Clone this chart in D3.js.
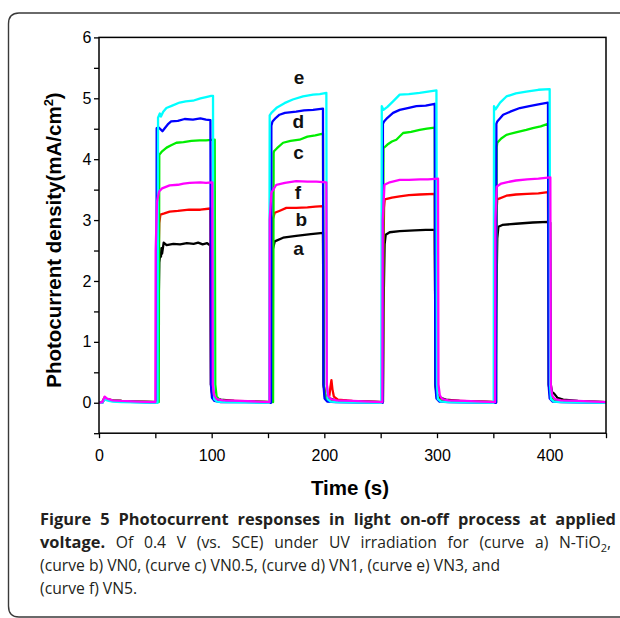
<!DOCTYPE html>
<html>
<head>
<meta charset="utf-8">
<script src="https://cdn.jsdelivr.net/npm/d3@7"></script>
<style>
  html, body { margin: 0; padding: 0; background: #fff; }
  svg { display: block; }
</style>
</head>
<body>
<svg id="chart" width="620" height="618"></svg>
<script>
// ---------------- DATA ----------------
const xTicks = [0, 100, 200, 300, 400];
const yTicks = [0, 1, 2, 3, 4, 5, 6];
const curveLabels = ["a", "b", "c", "d", "e", "f"];
const curveColors = ["#000000", "#ff0000", "#00ee00", "#0000ff", "#00ffff", "#ff00ff"];
// label positions in data units [time, value] (text baseline)
const labelPos = [[177, 2.42], [179.5, 2.90], [177, 4.01], [177, 4.52], [177.5, 5.24], [176.5, 3.35]];

// curve a: N-TiO2 (black)
const curveA = [[0,0],[3,0.01],[5,0.08],[7,0.06],[12,0.04],[20,0.03],[35,0.02],[52,0.01],[52.5,1.0],[53.5,2.3],[54.5,2.46],[55,2.4],[55.4,2.54],[56,2.45],[57.4,2.63],[60,2.59],[66,2.61],[72,2.6],[78,2.62],[84,2.61],[88,2.63],[92,2.6],[96,2.62],[98.9,2.58],[99.4,0.3],[100.5,0.14],[103,0.08],[108,0.05],[120,0.03],[140,0.02],[152.5,0.01],[153,1.5],[154,2.5],[156,2.65],[163.4,2.71],[175,2.74],[188,2.77],[198.8,2.79],[199.4,0.3],[200.5,0.14],[203,0.08],[208,0.05],[220,0.03],[240,0.02],[252,0.01],[252.5,1.5],[253.5,2.6],[254.5,2.76],[258,2.8],[266.9,2.82],[280,2.83],[290,2.84],[298,2.84],[298.8,0.3],[300,0.14],[303,0.08],[308,0.05],[320,0.03],[340,0.02],[352,0.01],[352.5,1.5],[353.5,2.7],[354.5,2.89],[358,2.92],[370,2.94],[385,2.96],[398.5,2.97],[400.5,2.96],[401,0.3],[402,0.18],[404,0.15],[407,0.08],[412,0.05],[425,0.03],[450,0.01]];
// curve b: VN0 (red)
const curveB = [[0,0],[3,0.01],[5,0.09],[7,0.06],[12,0.04],[20,0.03],[35,0.02],[52,0.01],[52.5,2.0],[53.5,2.95],[54.5,3.09],[58,3.11],[62.7,3.14],[70,3.15],[80,3.17],[90,3.17],[98.9,3.19],[99.4,0.3],[100.5,0.12],[103,0.06],[108,0.04],[120,0.03],[140,0.02],[152.5,0.01],[153,2.5],[154,3.0],[156,3.12],[160,3.15],[166.3,3.2],[175,3.2],[185,3.21],[192,3.22],[198.8,3.23],[199.4,0.3],[200.5,0.14],[202,0.09],[204.5,0.12],[205.4,0.26],[206.3,0.37],[207.2,0.22],[208.5,0.1],[212,0.05],[225,0.03],[240,0.02],[252,0.01],[252.5,2.5],[253,3.2],[253.6,3.34],[260,3.37],[266.9,3.39],[275,3.41],[284.6,3.42],[298,3.43],[298.6,0.3],[299.8,0.12],[302,0.06],[308,0.04],[320,0.03],[340,0.02],[352,0.01],[352.5,2.5],[353,3.2],[353.5,3.34],[361.6,3.40],[370,3.42],[380,3.43],[390,3.44],[398.5,3.46],[399.2,0.3],[400.5,0.12],[403,0.06],[408,0.04],[420,0.02],[450,0.01]];
// curve c: VN0.5 (green)
const curveC = [[0,0],[3,0.01],[5,0.08],[7,0.05],[12,0.04],[20,0.03],[35,0.02],[53,0.01],[53.5,4.07],[56,4.13],[60,4.19],[64,4.23],[68.7,4.27],[75,4.28],[82,4.3],[89.4,4.31],[95,4.31],[102.7,4.32],[103.2,0.3],[104.4,0.1],[107,0.05],[112,0.03],[130,0.02],[154.5,0.01],[155,4.1],[155.3,4.13],[158,4.18],[163.4,4.27],[170,4.3],[178,4.32],[185,4.37],[192,4.39],[198.8,4.42],[199.4,0.3],[200.5,0.1],[203,0.05],[208,0.03],[225,0.02],[252,0.01],[252.5,4.18],[256,4.24],[260,4.29],[263.9,4.32],[269.9,4.43],[277,4.45],[284.6,4.48],[291,4.5],[298,4.52],[298.6,0.3],[299.8,0.1],[302,0.05],[308,0.03],[325,0.02],[352.5,0.01],[353,4.2],[353.5,4.27],[357,4.34],[361.6,4.40],[370,4.44],[379.3,4.48],[385,4.51],[392,4.54],[398.5,4.58],[399.2,0.3],[400.5,0.1],[403,0.05],[408,0.03],[425,0.02],[450,0.01]];
// curve d: VN1 (blue)
const curveD = [[0,0],[3,0.0],[5,0.07],[7,0.05],[12,0.03],[20,0.02],[35,0.01],[51,0.0],[51.2,4.51],[53,4.52],[56.3,4.46],[58,4.5],[61,4.57],[64,4.62],[70,4.63],[76,4.66],[83.4,4.65],[90,4.67],[95,4.65],[98.9,4.64],[99.3,0.3],[100.3,0.08],[102.5,0.03],[108,0.01],[130,0.01],[152.7,0.0],[153,4.55],[154,4.62],[157,4.68],[160.2,4.73],[165,4.76],[175,4.78],[182,4.8],[190,4.81],[198.8,4.83],[199.2,0.3],[200.2,0.07],[202.5,0.02],[210,0.01],[251.8,0.0],[252,4.58],[253,4.62],[256,4.68],[261,4.76],[266.9,4.81],[274,4.84],[281.7,4.87],[290,4.88],[298,4.91],[298.5,0.3],[299.5,0.07],[302,0.02],[310,0.01],[352.5,0.0],[352.7,4.58],[353.5,4.62],[358.7,4.73],[365,4.78],[373.5,4.84],[382,4.87],[390,4.9],[398.5,4.93],[399,0.3],[400,0.07],[402.5,0.02],[410,0.01],[450,0.0]];
// curve e: VN3 (cyan)
const curveE = [[0,0],[3,0],[5,0.06],[7,0.04],[12,0.02],[20,0.01],[52,0.0],[52.4,4.68],[54,4.75],[55,4.70],[57,4.78],[59.8,4.84],[65,4.88],[71.6,4.93],[77,4.95],[83.4,4.96],[90,5.0],[95,5.02],[99.6,5.04],[101.2,5.04],[101.5,0.3],[102.3,0.06],[104.5,0.02],[112,0.01],[151,0.0],[151.5,4.72],[153,4.76],[158,4.85],[164.6,4.92],[172,4.98],[181.1,5.03],[190,5.06],[196,5.07],[201.8,5.09],[202.2,0.3],[203,0.06],[205.5,0.02],[212,0.01],[250.6,0.0],[251,4.87],[252.5,4.81],[256,4.86],[261,4.95],[266.9,5.06],[275,5.07],[284.6,5.09],[292,5.11],[299.5,5.13],[300,0.3],[300.8,0.06],[303.5,0.02],[312,0.01],[350.3,0],[350.6,4.87],[352,4.82],[356,4.93],[361.6,5.03],[370,5.08],[379.3,5.11],[390,5.14],[400,5.15],[400.4,0.3],[401.2,0.06],[403.5,0.02],[412,0.01],[450,0]];
// curve f: VN5 (magenta)
const curveF = [[0,0],[3,0.01],[5,0.1],[7,0.07],[12,0.04],[20,0.03],[35,0.02],[50,0.01],[50.3,2.5],[51.5,3.3],[53.3,3.47],[56,3.52],[62.7,3.57],[70,3.58],[75,3.6],[80.5,3.61],[90,3.62],[95,3.61],[100.6,3.62],[101,0.3],[102.2,0.12],[104.5,0.06],[110,0.04],[125,0.03],[140,0.02],[151.3,0.01],[151.5,3.0],[153,3.45],[157.4,3.58],[165,3.61],[175,3.64],[185,3.63],[193,3.63],[201.8,3.62],[202.2,0.3],[203.4,0.12],[205.8,0.06],[211,0.04],[225,0.03],[240,0.02],[251.5,0.01],[251.8,3.0],[253.4,3.58],[258,3.62],[266.9,3.66],[275,3.66],[285,3.67],[292,3.67],[300.9,3.68],[301.3,0.3],[302.5,0.12],[304.8,0.06],[310,0.04],[325,0.03],[340,0.02],[351.5,0.01],[351.8,3.0],[353,3.55],[357,3.6],[361.6,3.62],[370,3.65],[380,3.67],[390,3.68],[400.6,3.70],[401,0.3],[402.2,0.12],[404.6,0.06],[410,0.04],[425,0.03],[440,0.02],[450,0.01]];

const series = [curveA, curveB, curveC, curveD, curveE, curveF];

// ---------------- DRAW ----------------
const svg = d3.select("#chart");
const mLeft = 99, mRight = 606, mTop = 37.4, mBottom = 433.2;

// outer frame (rounded border)
svg.append("path")
  .attr("d", `M 640 13 L 19 13 Q 8.5 13 8.5 24 L 8.5 606 Q 8.5 617 19 617 L 640 617`)
  .attr("fill", "none").attr("stroke", "#3a3a3a").attr("stroke-width", 1.4);

const x = d3.scaleLinear().domain([0, 450]).range([mLeft, mRight]);
const y = d3.scaleLinear().domain([-0.5, 6]).range([mBottom, mTop]);

svg.append("clipPath").attr("id", "plotclip")
  .append("rect").attr("x", mLeft).attr("y", mTop).attr("width", mRight - mLeft).attr("height", mBottom - mTop);

const line = d3.line().x(d => x(d[0])).y(d => y(d[1]));
const curves = svg.append("g").attr("clip-path", "url(#plotclip)");
series.forEach((s, i) => {
  curves.append("path").datum(s)
    .attr("d", line)
    .attr("fill", "none")
    .attr("stroke", curveColors[i])
    .attr("stroke-width", 2.3)
    .attr("stroke-linejoin", "round");
});

// axes
const font = "'Liberation Sans', Arial, sans-serif";
const xAxis = d3.axisBottom(x).tickValues(d3.range(0, 451, 50)).tickSize(5).tickFormat(d => xTicks.includes(d) ? d : "");
const yAxis = d3.axisLeft(y).tickValues(d3.range(-0.5, 6.01, 0.5)).tickSize(5).tickFormat(d => yTicks.includes(d) ? d : "");

const gx = svg.append("g").attr("transform", `translate(0,${mBottom})`).call(xAxis);
const gy = svg.append("g").attr("transform", `translate(${mLeft},0)`).call(yAxis);
[gx, gy].forEach(a => {
  a.select(".domain").remove();
  a.selectAll(".tick line").attr("stroke", "#000").attr("stroke-width", 1.3);
  a.selectAll(".tick text").attr("font-family", font).attr("font-size", 16).attr("fill", "#000");
});
gx.selectAll(".tick text").attr("dy", "0.71em").attr("y", 16);
gy.selectAll(".tick text").attr("x", -7.5);

// frame box
svg.append("rect").attr("x", mLeft).attr("y", mTop).attr("width", mRight - mLeft).attr("height", mBottom - mTop)
  .attr("fill", "none").attr("stroke", "#000").attr("stroke-width", 1.5);

// axis titles
svg.append("text").attr("x", 350).attr("y", 494.5)
  .attr("text-anchor", "middle").attr("font-family", font).attr("font-weight", "bold").attr("font-size", 20.5)
  .text("Time (s)");
const yt = svg.append("text").attr("transform", `translate(61,240) rotate(-90)`)
  .attr("text-anchor", "middle").attr("font-family", font).attr("font-weight", "bold").attr("font-size", 20.5);
yt.append("tspan").text("Photocurrent density(mA/cm");
yt.append("tspan").attr("dy", -8).attr("font-size", 13).text("2");
yt.append("tspan").attr("dy", 8).text(")");

// curve letters
curveLabels.forEach((t, i) => {
  svg.append("text").attr("x", x(labelPos[i][0])).attr("y", y(labelPos[i][1]))
    .attr("text-anchor", "middle").attr("font-family", font).attr("font-weight", "bold").attr("font-size", 19)
    .attr("fill", "#111").text(t);
});

// caption
const capFont = "'Open Sans', 'Noto Sans', sans-serif";
const cap = svg.append("g").attr("font-family", capFont).attr("font-size", 15.7).attr("fill", "#231f20");
const l1 = cap.append("text").attr("x", 40).attr("y", 524.5).attr("font-weight", "bold").attr("font-size", 16.4)
  .text("Figure 5 Photocurrent responses in light on-off process at applied");
const l2 = cap.append("text").attr("x", 40).attr("y", 547.5);
l2.append("tspan").attr("font-weight", "bold").attr("font-size", 16.4).text("voltage.");
l2.append("tspan").text(" Of 0.4 V (vs. SCE) under UV irradiation for (curve a) N-TiO");
l2.append("tspan").attr("dy", 4).attr("font-size", 11).text("2");
l2.append("tspan").attr("dy", -4).text(",");
cap.append("text").attr("x", 40).attr("y", 570.5).text("(curve b) VN0, (curve c) VN0.5, (curve d) VN1, (curve e) VN3, and");
cap.append("text").attr("x", 40).attr("y", 593.5).text("(curve f) VN5.");

// justify the first two caption lines to the column width
function justify(sel, target) {
  const node = sel.node();
  const w = node.getComputedTextLength();
  const n = (node.textContent.match(/ /g) || []).length;
  if (n > 0 && target > w) sel.attr("word-spacing", (target - w) / n);
}
justify(l1, 576);
justify(l2, 571);
</script>
</body>
</html>
